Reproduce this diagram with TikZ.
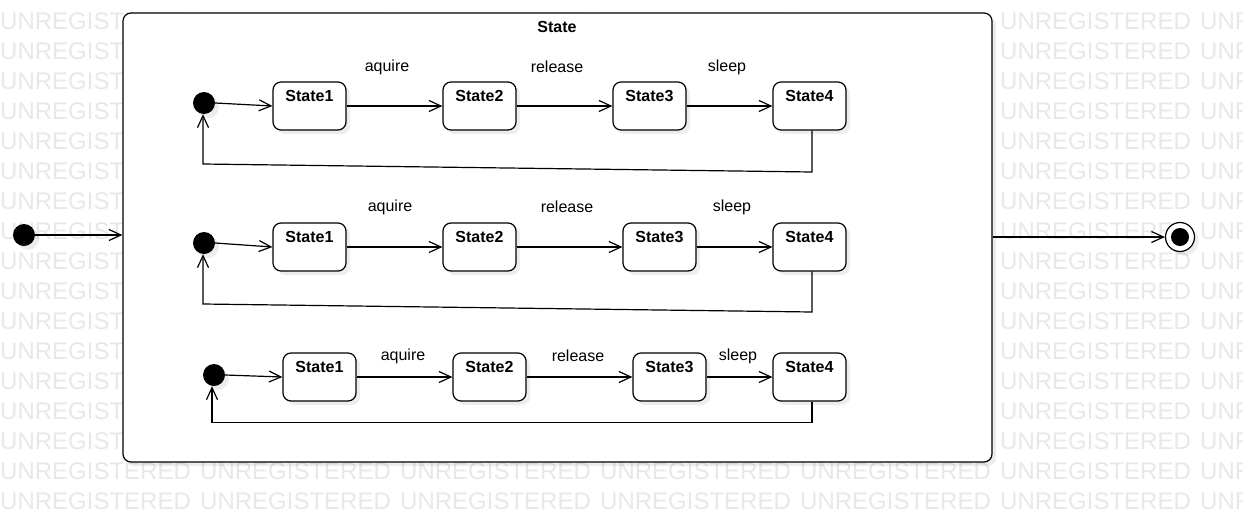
\documentclass[tikz,border=0pt]{standalone}
\usepackage{fontspec}
\setmainfont{Liberation Sans}
\usetikzlibrary{arrows.meta,shadows}
\begin{document}
\begin{tikzpicture}[x=1pt,y=-1pt,
  shd/.style={drop shadow={shadow xshift=4pt,shadow yshift=-4pt,fill=black,opacity=0.07}},
  stbox/.style={draw,line width=1.2pt,rounded corners=8pt,fill=white,minimum width=73pt,minimum height=48pt,shd,inner sep=0pt},
  stlab/.style={anchor=north,inner sep=0pt,yshift=-9pt,font=\fontsize{16}{19}\selectfont\bfseries},
  initdot/.style={circle,fill=black,minimum size=22pt,inner sep=0pt,shd},
  evt/.style={font=\fontsize{16}{19}\selectfont,inner sep=0pt},
  tr/.style={line width=1.2pt,-{Straight Barb[length=12pt,width=11pt,line width=1.2pt]}},
  wm/.style={anchor=base west,inner sep=0pt,text=black!9,font=\fontsize{24}{28}\selectfont}
]
\useasboundingbox (0,0) rectangle (1243,512);
\fill[white] (0,0) rectangle (1243,512);
% watermark
\foreach \k in {0,...,16}{
  \foreach \i in {0,...,6}{
    \node[wm] (wm-\i-\k) at (200*\i,29+30*\k) {UNREGISTERED};
  }
}
% outer composite state
\node[draw,line width=1.2pt,rounded corners=8pt,fill=white,minimum width=869pt,minimum height=449pt,inner sep=0pt,shd] (box) at (557.5,237.5) {};
\node[evt,font=\fontsize{16}{19}\selectfont\bfseries] (title) at (557,27) {State};

% outer initial and final
\node[initdot] (init) at (24,235) {};
\draw[tr] (init) -- (init -| box.west);
\node[circle,draw,line width=1.2pt,fill=white,minimum size=29pt,inner sep=0pt,shd] (fin) at (1180,237) {};
\node[circle,fill=black,minimum size=18pt,inner sep=0pt] (finin) at (fin) {};
\draw[tr] (fin -| box.east) -- (fin.west);

% ---------- row 1 ----------
\node[initdot] (a0) at (204,103) {};
\node[stbox,label={[stlab]north:State1}] (a1) at (309.5,106) {};
\node[stbox,label={[stlab]north:State2}] (a2) at (479.5,106) {};
\node[stbox,label={[stlab]north:State3}] (a3) at (649.5,106) {};
\node[stbox,label={[stlab]north:State4}] (a4) at (809.5,106) {};
\node[evt] (ae1) at (387,67) {aquire};
\node[evt] (ae2) at (557,67) {release};
\node[evt] (ae3) at (727,67) {sleep};
\draw[tr] (a0.east) -- (a1.west);
\draw[tr] (a1.east) -- (a2.west);
\draw[tr] (a2.east) -- (a3.west);
\draw[tr] (a3.east) -- (a4.west);
\coordinate (ac1) at (812,172);
\coordinate (ac2) at (203,164);
\draw[tr] (a4.south -| ac1) -- (ac1) -- (ac2) -- (a0.south -| ac2);

% ---------- row 2 ----------
\node[initdot] (b0) at (204,243) {};
\node[stbox,label={[stlab]north:State1}] (b1) at (309.5,247) {};
\node[stbox,label={[stlab]north:State2}] (b2) at (479.5,247) {};
\node[stbox,label={[stlab]north:State3}] (b3) at (659.5,247) {};
\node[stbox,label={[stlab]north:State4}] (b4) at (809.5,247) {};
\node[evt] (be1) at (390,207) {aquire};
\node[evt] (be2) at (567,207) {release};
\node[evt] (be3) at (732,207) {sleep};
\draw[tr] (b0.east) -- (b1.west);
\draw[tr] (b1.east) -- (b2.west);
\draw[tr] (b2.east) -- (b3.west);
\draw[tr] (b3.east) -- (b4.west);
\coordinate (bc1) at (812,312);
\coordinate (bc2) at (203,304);
\draw[tr] (b4.south -| bc1) -- (bc1) -- (bc2) -- (b0.south -| bc2);

% ---------- row 3 ----------
\node[initdot] (c0) at (214,375) {};
\node[stbox,label={[stlab]north:State1}] (c1) at (319.5,377) {};
\node[stbox,label={[stlab]north:State2}] (c2) at (489.5,377) {};
\node[stbox,label={[stlab]north:State3}] (c3) at (669.5,377) {};
\node[stbox,label={[stlab]north:State4}] (c4) at (809.5,377) {};
\node[evt] (ce1) at (403,356) {aquire};
\node[evt] (ce2) at (578,356) {release};
\node[evt] (ce3) at (738,356) {sleep};
\draw[tr] (c0.east) -- (c1.west);
\draw[tr] (c1.east) -- (c2.west);
\draw[tr] (c2.east) -- (c3.west);
\draw[tr] (c3.east) -- (c4.west);
\coordinate (cc1) at (812,422.3);
\coordinate (cc2) at (212,422.3);
\draw[tr] (c4.south -| cc1) -- (cc1) -- (cc2) -- (c0.south -| cc2);
\end{tikzpicture}
\end{document}
